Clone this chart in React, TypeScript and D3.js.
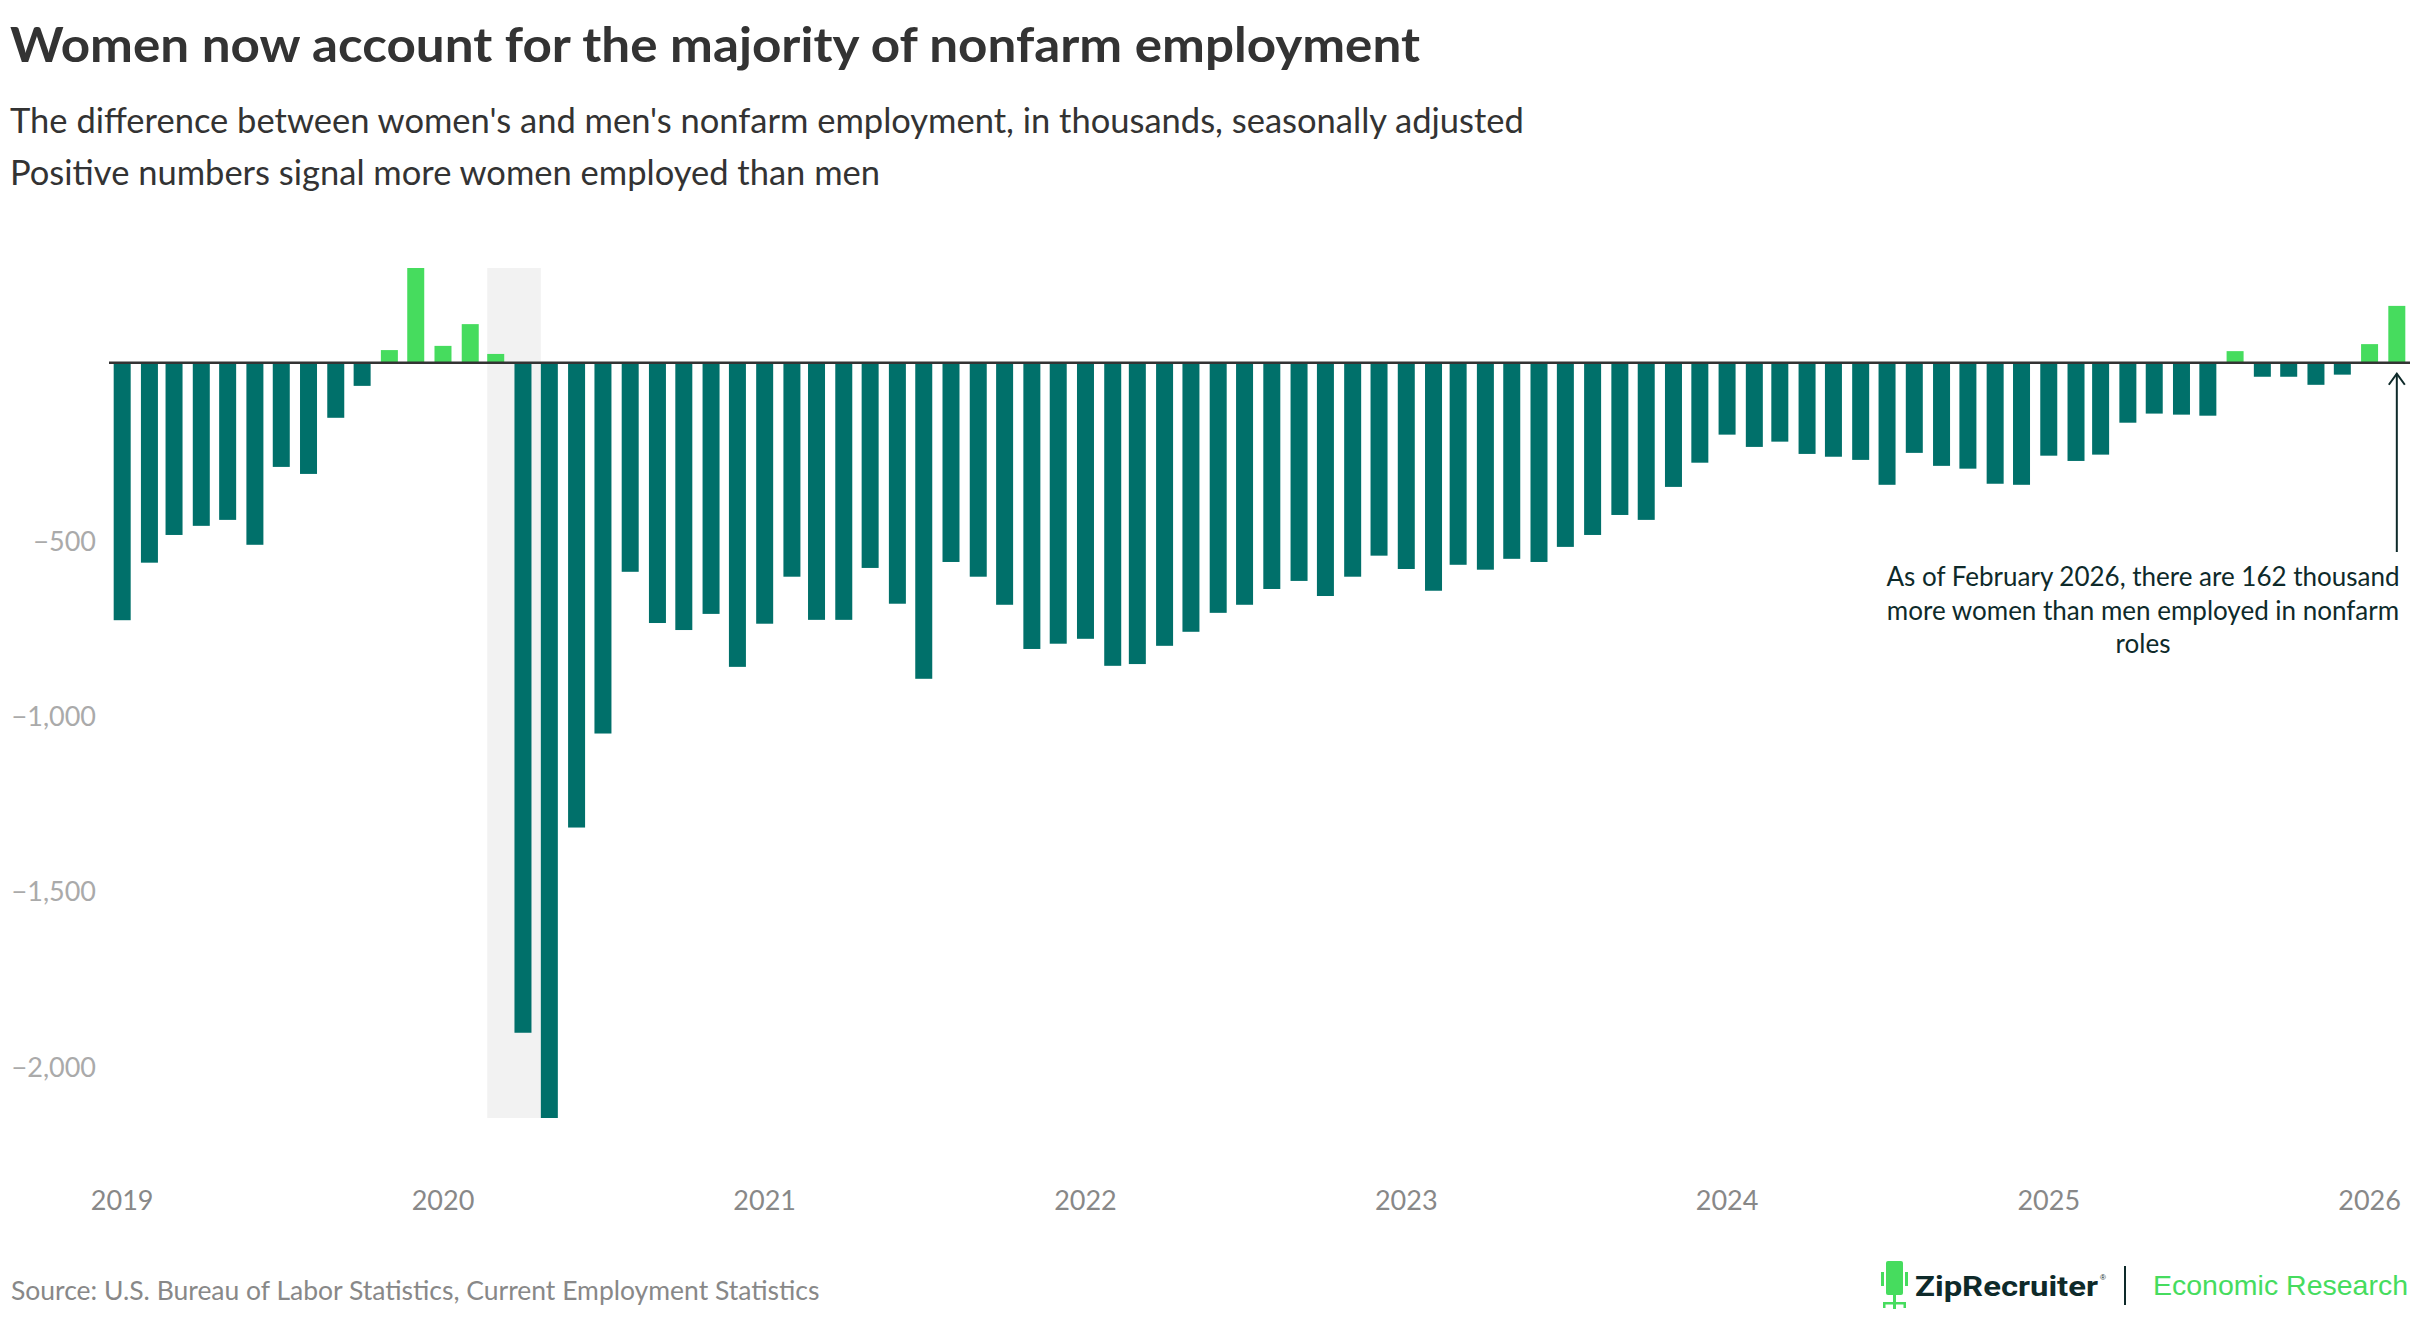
import * as d3 from "d3";

// difference women - men, nonfarm employment, thousands (SA)
const values2019 = [-734, -570, -491, -465, -448, -519, -297, -317, -157, -66, 36, 270];
const values2020 = [48, 110, 25, -1910, -2153, -1325, -1057, -596, -742, -762, -716, -867];
const values2021 = [-744, -610, -733, -733, -585, -687, -901, -568, -610, -690, -816, -801];
const values2022 = [-787, -864, -859, -807, -767, -713, -690, -645, -622, -665, -610, -550];
const values2023 = [-588, -650, -576, -590, -559, -568, -525, -491, -434, -448, -354, -285];
const values2024 = [-205, -240, -225, -260, -268, -277, -348, -257, -294, -302, -345, -348];
const values2025 = [-265, -280, -262, -171, -145, -148, -151, 33, -40, -40, -63, -34];
const values2026 = [53, 162];

const years = [2019, 2020, 2021, 2022, 2023, 2024, 2025, 2026];
const yearSeries = [values2019, values2020, values2021, values2022, values2023, values2024, values2025, values2026];

const yTicks = [-500, -1000, -1500, -2000];
const xTickYears = [2019, 2020, 2021, 2022, 2023, 2024, 2025, 2026];

// shaded recession months (Mar 2020 - Apr 2020)
const recessionFrom = [2020, 2];
const recessionTo = [2020, 4];

const noteLines = [
  "As of February 2026, there are 162 thousand",
  "more women than men employed in nonfarm",
  "roles",
];

const WIDTH = 2420;
const HEIGHT = 1320;
const FONT = "'Source Sans Pro', Lato, 'Noto Sans', sans-serif";

type Point = { date: Date; value: number };

const data: Point[] = yearSeries.flatMap((vals, yi) =>
  vals.map((v, m) => ({ date: new Date(years[yi], m, 1), value: v })),
);

export default function App() {
  const barW = 17;

  const x = d3
    .scaleTime()
    .domain([new Date(2018, 11, 17), new Date(2026, 1, 16)])
    .range([109, 2410]);

  const [minV, maxV] = d3.extent(data, (d) => d.value) as [number, number];
  const y = d3.scaleLinear().domain([minV, maxV]).range([1118, 268]);

  const last = data[data.length - 1];
  const arrowX = x(last.date);
  const arrowTop = y(0) + 11;
  const arrowBottom = 552;

  const recX0 = x(new Date(recessionFrom[0], recessionFrom[1], 1)) - barW / 2;
  const recX1 = x(new Date(recessionTo[0], recessionTo[1], 1)) - barW / 2;

  return (
    <svg
      width={WIDTH}
      height={HEIGHT}
      style={{ position: "absolute", left: 0, top: 0, background: "#fff" }}
      fontFamily={FONT}
    >
      {/* Header */}
      <text x={10} y={62} fontSize={48} fontWeight={700} fill="#333" textLength={1410} lengthAdjust="spacingAndGlyphs">
        Women now account for the majority of nonfarm employment
      </text>
      <text x={10} y={133} fontSize={34.5} fill="#333">
        The difference between women's and men's nonfarm employment, in thousands, seasonally adjusted
      </text>
      <text x={10} y={185} fontSize={34.5} fill="#333">
        Positive numbers signal more women employed than men
      </text>

      {/* Recession shading */}
      <rect x={recX0} y={y(maxV)} width={recX1 - recX0} height={y(minV) - y(maxV)} fill="#f2f2f2" />

      {/* Bars */}
      {data.map((d, i) => (
        <rect
          key={i}
          x={x(d.date) - barW / 2}
          y={y(Math.max(0, d.value))}
          width={barW}
          height={Math.abs(y(d.value) - y(0))}
          fill={d.value >= 0 ? "#46dc5e" : "#00706a"}
        />
      ))}

      {/* Zero line */}
      <line x1={x.range()[0]} x2={x.range()[1]} y1={y(0)} y2={y(0)} stroke="#333" strokeWidth={2.5} />

      {/* Y axis labels */}
      {yTicks.map((t) => (
        <text key={t} x={96} y={y(t) + 2} fontSize={27} fill="#aaa" textAnchor="end" dominantBaseline="central">
          {d3.format(",")(t).replace("-", "\u2212")}
        </text>
      ))}

      {/* X axis labels */}
      {xTickYears.map((yr) => (
        <text key={yr} x={x(new Date(yr, 0, 1))} y={1210} fontSize={27} fill="#888" textAnchor="middle">
          {yr}
        </text>
      ))}

      {/* Annotation */}
      <line x1={arrowX} x2={arrowX} y1={arrowTop} y2={arrowBottom} stroke="#0e2a2a" strokeWidth={2} />
      <path
        d={`M${arrowX - 8},${arrowTop + 11} L${arrowX},${arrowTop} L${arrowX + 8},${arrowTop + 11}`}
        fill="none"
        stroke="#0e2a2a"
        strokeWidth={2}
      />
      {noteLines.map((line, i) => (
        <text key={i} x={2143} y={586 + i * 33.5} fontSize={26} fill="#0e2a2a" textAnchor="middle">
          {line}
        </text>
      ))}

      {/* Footer */}
      <text x={11} y={1300} fontSize={26.5} fill="#888">
        Source: U.S. Bureau of Labor Statistics, Current Employment Statistics
      </text>

      <g fill="#46dc5e">
        <rect x={1886} y={1261} width={17} height={34} rx={2} />
        <rect x={1881} y={1272} width={3} height={14} />
        <rect x={1905} y={1272} width={3} height={14} />
        <rect x={1893} y={1295} width={3} height={8} />
        <rect x={1883} y={1302} width={23} height={2.5} />
        <rect x={1883} y={1302} width={2.5} height={6} />
        <rect x={1903.5} y={1302} width={2.5} height={6} />
        <rect x={1893} y={1302} width={3} height={7} />
      </g>
      <text
        x={1915}
        y={1296}
        fontSize={27}
        fontWeight={700}
        fill="#0e2a2a"
        fontFamily="Roboto, 'Liberation Sans', sans-serif"
        textLength={183}
        lengthAdjust="spacingAndGlyphs"
      >
        ZipRecruiter
      </text>
      <text x={2100} y={1280} fontSize={8} fill="#0e2a2a" fontFamily="'Liberation Sans', sans-serif">
        ®
      </text>
      <line x1={2125} x2={2125} y1={1266} y2={1305} stroke="#0e2a2a" strokeWidth={2} />
      <text x={2153} y={1295} fontSize={28.5} fill="#46dc5e" fontFamily="'Liberation Sans', Arial, sans-serif">
        Economic Research
      </text>
    </svg>
  );
}
